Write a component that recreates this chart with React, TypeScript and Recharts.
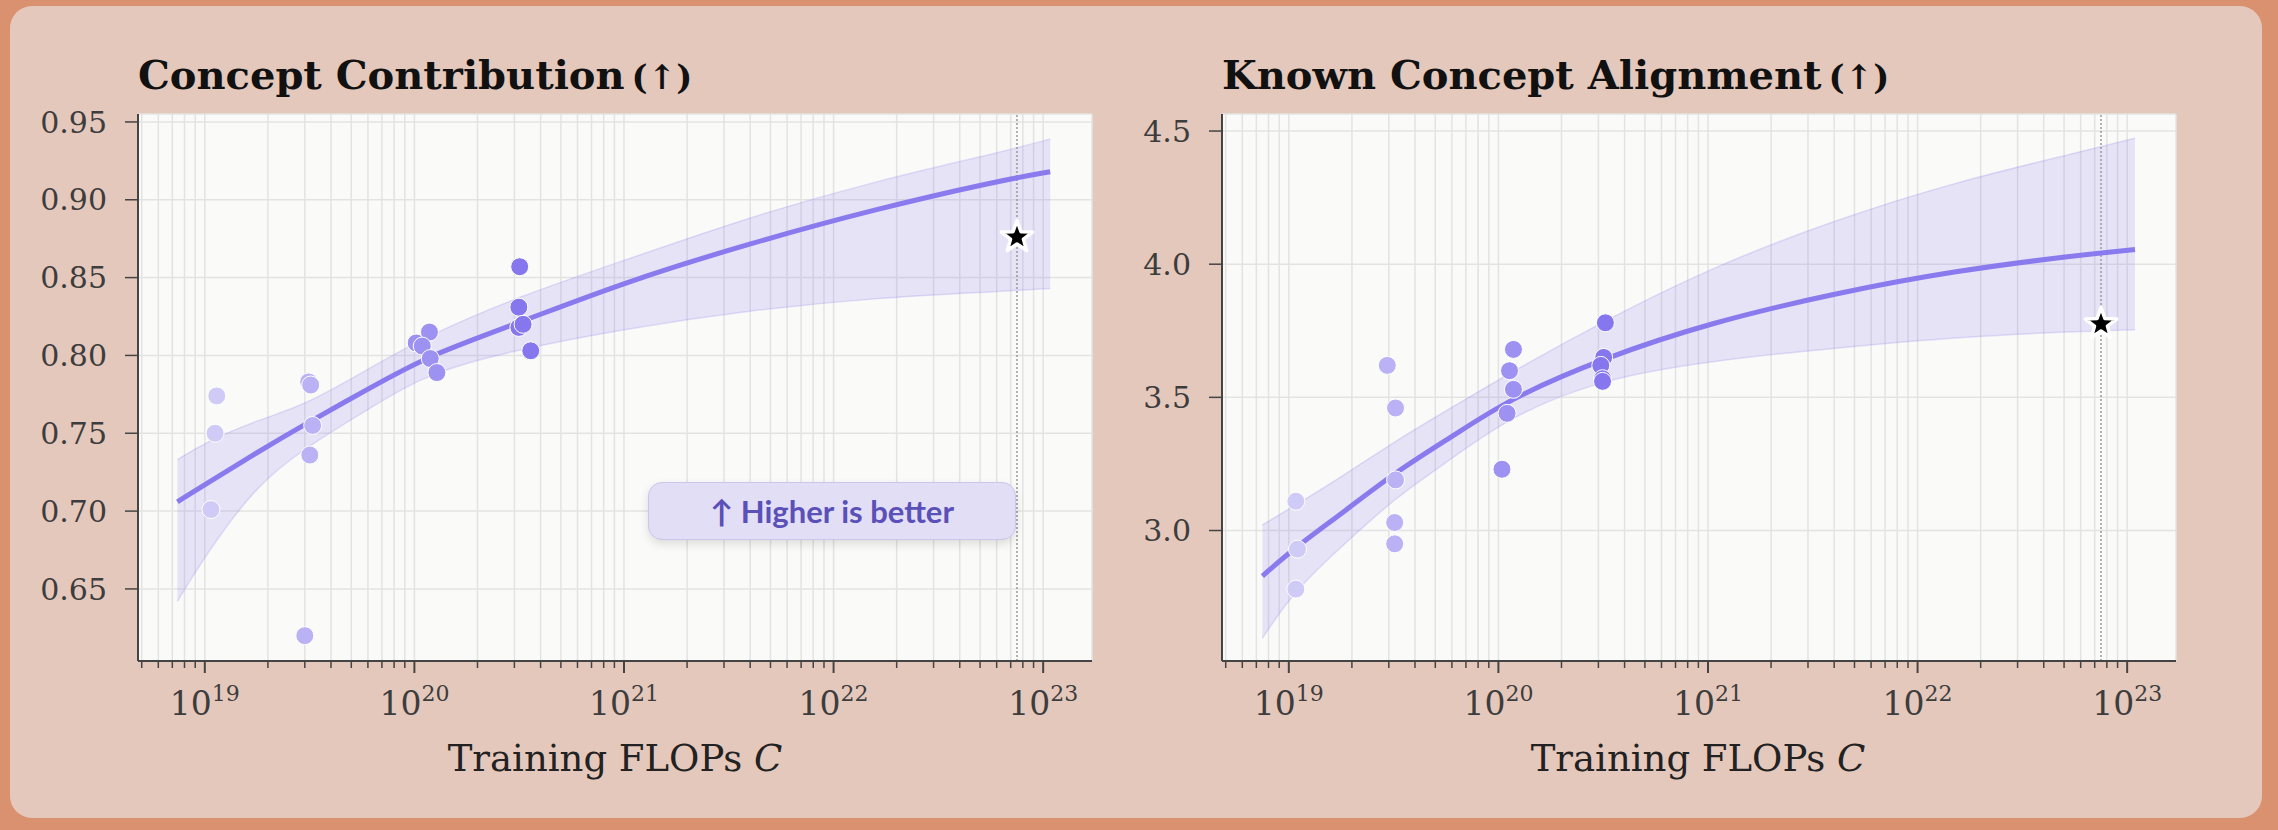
import {
  ComposedChart,
  XAxis,
  YAxis,
  CartesianGrid,
  Area,
  Line,
  Scatter,
  ReferenceLine,
} from 'recharts';

// ---- Concept Contribution ----
const contribFitFlops = [7.4e18, 1.0e19, 1.74e19, 3.02e19, 6.31e19, 1.17e20, 3.16e20, 1.0e21, 3.98e21, 1.58e22, 6.03e22, 1.08e23];
const contribFit  = [0.706, 0.717, 0.737, 0.756, 0.780, 0.800, 0.821, 0.847, 0.872, 0.894, 0.912, 0.918];
const contribLow  = [0.642, 0.671, 0.716, 0.741, 0.767, 0.789, 0.804, 0.817, 0.829, 0.837, 0.841, 0.843];
const contribHigh = [0.733, 0.744, 0.758, 0.768, 0.793, 0.813, 0.838, 0.861, 0.889, 0.912, 0.930, 0.939];

const contribPtFlops = [1.14e19, 1.12e19, 1.07e19, 3.13e19, 3.2e19, 3.27e19, 3.17e19, 3.0e19, 1.02e20, 1.18e20, 1.09e20, 1.19e20, 1.28e20, 3.18e20, 3.15e20, 3.15e20, 3.3e20, 3.59e20];
const contribPtVals  = [0.774, 0.750, 0.701, 0.783, 0.781, 0.755, 0.736, 0.620, 0.808, 0.815, 0.806, 0.798, 0.789, 0.857, 0.831, 0.818, 0.820, 0.803];
const contribStar = 0.876;
const contribYTicks = [0.65, 0.70, 0.75, 0.80, 0.85, 0.90, 0.95];

// ---- Known Concept Alignment ----
const alignFitFlops = [7.48e18, 1.08e19, 1.82e19, 3.22e19, 6.11e19, 1.12e20, 3.08e20, 1.03e21, 3.98e21, 1.52e22, 5.86e22, 1.09e23];
const alignFit  = [2.829, 2.938, 3.068, 3.219, 3.356, 3.493, 3.644, 3.781, 3.890, 3.976, 4.034, 4.055];
const alignLow  = [2.596, 2.781, 2.945, 3.124, 3.274, 3.425, 3.569, 3.637, 3.685, 3.726, 3.748, 3.754];
const alignHigh = [3.021, 3.096, 3.206, 3.336, 3.466, 3.589, 3.781, 3.987, 4.165, 4.309, 4.420, 4.473];

const alignPtFlops = [1.08e19, 1.1e19, 1.08e19, 2.95e19, 3.23e19, 3.23e19, 3.2e19, 3.2e19, 1.18e20, 1.13e20, 1.18e20, 1.1e20, 1.04e20, 3.24e20, 3.18e20, 3.08e20, 3.14e20, 3.14e20];
const alignPtVals  = [3.11, 2.93, 2.78, 3.62, 3.46, 3.19, 3.03, 2.95, 3.68, 3.60, 3.53, 3.44, 3.23, 3.78, 3.65, 3.62, 3.57, 3.56];
const alignStar = 3.775;
const alignYTicks = [3.0, 3.5, 4.0, 4.5];

// shared x axis
const starFlops = 7.5e22;
const xDomain = [4.8e18, 1.71e23];
const majorTicks = [1e19, 1e20, 1e21, 1e22, 1e23];
const minorMultipliers = [2, 3, 4, 5, 6, 7, 8, 9];

const xTicks = [
  ...minorMultipliers.map(m => m * 1e18),
  ...majorTicks.flatMap(t => [t, ...minorMultipliers.map(m => m * t)]),
].filter(t => t >= xDomain[0] && t <= xDomain[1]);

const LINE = '#897AEE';
const SERIF = '"DejaVu Serif", serif';

// lighter dots for the smaller compute budgets
function dotColor(c: number) {
  const l = Math.log10(c);
  if (l < 19.25) return '#D0CBF6';
  if (l < 19.75) return '#BAB2F5';
  if (l < 20.25) return '#9D91F1';
  return '#8677EE';
}

const XTick = (props: any) => {
  const { x, y, payload } = props;
  const v = payload.value as number;
  const e = Math.round(Math.log10(v));
  const major = Math.abs(v / Math.pow(10, e) - 1) < 1e-6;
  return (
    <g>
      <line x1={x} x2={x} y1={y} y2={y + (major ? 12 : 7)} stroke="#444" strokeWidth={major ? 2 : 1.5} />
      {major && (
        <text x={x} y={y + 54} textAnchor="middle" fontFamily={SERIF} fontSize={33} fill="#3d3d3d">
          10<tspan fontSize={22} dy={-14}>{e}</tspan>
        </text>
      )}
    </g>
  );
};

const Dot = (p: any) => (
  <circle cx={p.cx} cy={p.cy} r={9} fill={dotColor(p.payload.c)} stroke="#fff" strokeWidth={1} />
);

const StarShape = (p: any) => {
  const pts: string[] = [];
  for (let i = 0; i < 10; i++) {
    const r = i % 2 === 0 ? 16.5 : 6.8;
    const a = -Math.PI / 2 + (i * Math.PI) / 5;
    pts.push(`${p.cx + r * Math.cos(a)},${p.cy + r * Math.sin(a)}`);
  }
  return <polygon points={pts.join(' ')} fill="#000" stroke="#fff" strokeWidth={3.5} strokeLinejoin="round" />;
};

interface PanelProps {
  fitFlops: number[];
  fit: number[];
  low: number[];
  high: number[];
  ptFlops: number[];
  ptVals: number[];
  star: number;
  yDomain: number[];
  yTicks: number[];
  digits: number;
}

const Panel = ({ fitFlops, fit, low, high, ptFlops, ptVals, star, yDomain, yTicks, digits }: PanelProps) => {
  const rows = fitFlops.map((c, i) => ({ c, fit: fit[i], band: [low[i], high[i]] }));
  const pts = ptFlops.map((c, i) => ({ c, v: ptVals[i] }));
  return (
    <ComposedChart width={1120} height={830} data={rows} margin={{ top: 114, right: 28, bottom: 89, left: 18 }}>
      <CartesianGrid fill="#FAFAF8" stroke="#e3e3e3" strokeWidth={1.5} />
      <XAxis
        dataKey="c"
        type="number"
        scale="log"
        domain={xDomain}
        allowDataOverflow
        ticks={xTicks}
        interval={0}
        tick={<XTick />}
        tickLine={false}
        tickSize={0}
        tickMargin={0}
        height={80}
        axisLine={{ stroke: '#444', strokeWidth: 2 }} />
      <YAxis
        type="number"
        domain={yDomain}
        allowDataOverflow
        ticks={yTicks}
        interval={0}
        width={120}
        tickSize={13}
        tickMargin={18}
        tickFormatter={(v: number) => v.toFixed(digits)}
        tick={{ fontSize: 30, fontFamily: SERIF, fill: '#3d3d3d' }}
        tickLine={{ stroke: '#444', strokeWidth: 1.5 }}
        axisLine={{ stroke: '#444', strokeWidth: 2 }} />
      <ReferenceLine x={starFlops} stroke="#999" strokeWidth={1.5} strokeDasharray="2 2" />
      <Area
        type="basis"
        dataKey="band"
        fill={LINE}
        fillOpacity={0.18}
        stroke={LINE}
        strokeOpacity={0.22}
        strokeWidth={1.5}
        dot={false}
        activeDot={false}
        isAnimationActive={false} />
      <Line
        type="basis"
        dataKey="fit"
        stroke={LINE}
        strokeWidth={5}
        dot={false}
        activeDot={false}
        isAnimationActive={false} />
      <Scatter data={pts} dataKey="v" shape={Dot} isAnimationActive={false} />
      <Scatter data={[{ c: starFlops, v: star }]} dataKey="v" shape={StarShape} isAnimationActive={false} />
    </ComposedChart>
  );
};

export default function App() {
  return (
    <div style={{ position: 'fixed', left: 0, top: 0, width: 2278, height: 830, background: '#D9916F', overflow: 'hidden' }}>
      <div style={{ position: 'absolute', left: 10, top: 6, width: 2252, height: 812, borderRadius: 22, background: '#E5C8BC' }} />
      <div style={{ position: 'absolute', left: 0, top: 0 }}>
        <Panel
          fitFlops={contribFitFlops} fit={contribFit} low={contribLow} high={contribHigh}
          ptFlops={contribPtFlops} ptVals={contribPtVals} star={contribStar}
          yDomain={[0.6037, 0.9551]} yTicks={contribYTicks} digits={2} />
      </div>
      <div style={{ position: 'absolute', left: 1084, top: 0 }}>
        <Panel
          fitFlops={alignFitFlops} fit={alignFit} low={alignLow} high={alignHigh}
          ptFlops={alignPtFlops} ptVals={alignPtVals} star={alignStar}
          yDomain={[2.51, 4.564]} yTicks={alignYTicks} digits={1} />
      </div>
      <svg width={2278} height={830} style={{ position: 'absolute', left: 0, top: 0, pointerEvents: 'none' }}>
        <text x={138} y={89} fontFamily={SERIF} fontWeight="bold" fontSize={40} fill="#111">
          Concept Contribution<tspan fontSize={34} dx={7}>(↑)</tspan>
        </text>
        <text x={1222} y={89} fontFamily={SERIF} fontWeight="bold" fontSize={40} fill="#111">
          Known Concept Alignment<tspan fontSize={34} dx={7}>(↑)</tspan>
        </text>
        <text x={615} y={771} textAnchor="middle" fontFamily={SERIF} fontSize={37} fill="#222">
          Training FLOPs <tspan fontStyle="italic">C</tspan>
        </text>
        <text x={1698} y={771} textAnchor="middle" fontFamily={SERIF} fontSize={37} fill="#222">
          Training FLOPs <tspan fontStyle="italic">C</tspan>
        </text>
      </svg>
      <div
        style={{
          position: 'absolute', left: 648, top: 482, width: 368, height: 58, boxSizing: 'border-box',
          borderRadius: 14, background: '#E1DEF5', border: '1.5px solid #CBC6EC',
          boxShadow: '0 4px 10px rgba(0,0,0,0.12)', display: 'flex', alignItems: 'center', justifyContent: 'center',
          fontFamily: 'Lato, sans-serif', fontWeight: 700, fontSize: 31, color: '#5A50B8',
        }}>
        ↑ Higher is better
      </div>
    </div>
  );
}
